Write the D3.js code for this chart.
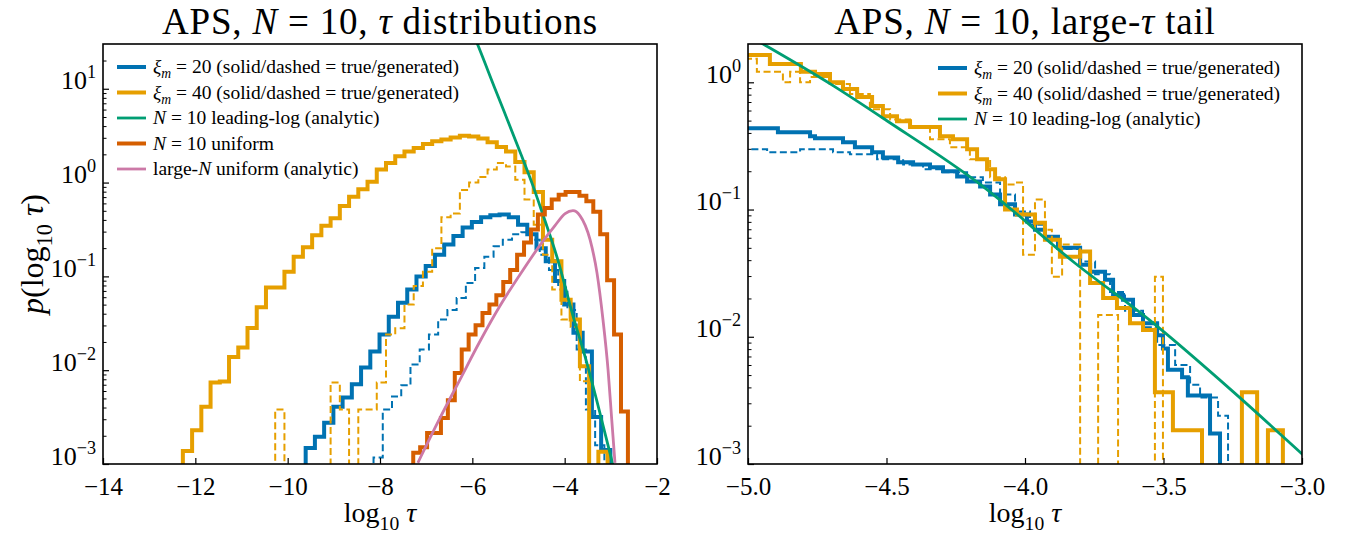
<!DOCTYPE html>
<html>
<head>
<meta charset="utf-8">
<title>APS tau distributions</title>
<script src="https://cdn.jsdelivr.net/npm/d3@7"></script>
<style>
  body { margin: 0; background: #fff; }
  svg text { font-family: "Liberation Serif", "DejaVu Serif", serif; fill: #000; }
</style>
</head>
<body>
<div id="figure"></div>
<script>
/*
Two log-y step-histogram panels for APS with N = 10.
Left: full tau distributions, right: zoom on the large-tau tail.
All values (x = log10 tau, y = p(log10 tau)).
*/

// ---- left panel, 0.2-wide bins ----
const binWidth = 0.2;

const xi40Start = -12.27;
const xi40True = [0.00138, 0.00229, 0.00407, 0.00741, 0.00759, 0.0138, 0.0174, 0.0282, 0.0468, 0.0759,
  0.0759, 0.112, 0.162, 0.204, 0.275, 0.347, 0.417, 0.562, 0.708, 0.851,
  1.02, 1.38, 1.62, 1.91, 2.14, 2.34, 2.57, 2.75, 2.88, 3.02,
  3.16, 3.09, 2.95, 2.69, 2.40, 2.14, 1.66, 1.29, 0.794, 0.245,
  0.145, 0.0562, 0.0347, 0.011, 0, 0.00135];
const xi40Gen = [0, 0, 0, 0, 0, 0, 0, 0, 0, 0,
  0.0038, 0, 0, 0, 0, 0, 0.0074, 0.0038, 0, 0.0038,
  0.0038, 0.0074, 0.024, 0.028, 0.05, 0.079, 0.112, 0.2, 0.427, 0.468,
  0.832, 1.0, 1.15, 1.38, 1.62, 1.48, 1.07, 0.66, 0.355, 0.17,
  0.0724, 0.0347, 0.0288, 0.0076];

const xi20TrueStart = -9.61;
const xi20True = [0.00148, 0.00195, 0.00275, 0.00407, 0.00513, 0.00708, 0.0107, 0.0158, 0.024, 0.0372,
  0.0525, 0.0724, 0.1, 0.129, 0.17, 0.219, 0.269, 0.331, 0.38, 0.427,
  0.447, 0.457, 0.427, 0.355, 0.282, 0.2, 0.145, 0.0891, 0.0501, 0.0251,
  0.0158, 0.00316, 0.00141];

const xi20GenStart = -8.14;
const xi20Gen = [0.00117, 0.0038, 0.00525, 0.00692, 0.0115, 0.0166, 0.024, 0.0347, 0.0437, 0.0589,
  0.0851, 0.123, 0.162, 0.209, 0.245, 0.282, 0.295, 0.245, 0.17, 0.117,
  0.0759, 0.0437, 0.0166, 0.0038, 0.00158];

// N = 10 uniform, 0.15-wide bins
const uniformStart = -7.28;
const uniformWidth = 0.15;
const uniformN10 = [0.00132, 0.00151, 0.00214, 0.00214, 0.00309, 0.00479, 0.00933, 0.0166, 0.024, 0.0302,
  0.0407, 0.0501, 0.0631, 0.0871, 0.117, 0.17, 0.229, 0.316, 0.457, 0.537,
  0.661, 0.741, 0.794, 0.794, 0.724, 0.631, 0.49, 0.282, 0.0912, 0.024,
  0.00363];

// analytic curves, sampled off the figure as [log10 tau, p]
const largeNUniform = [[-7.18, 0.00103], [-6.70, 0.0031], [-6.27, 0.0079], [-5.84, 0.0201],
  [-5.40, 0.0486], [-4.97, 0.104], [-4.54, 0.213], [-4.21, 0.348], [-3.99, 0.467],
  [-3.82, 0.502], [-3.67, 0.445], [-3.45, 0.246], [-3.30, 0.109], [-3.17, 0.0345],
  [-3.06, 0.0101], [-2.98, 0.00296], [-2.91, 0.00103]];
const leadingLog = [[-6.0, 40.7], [-5.9, 30.9], [-5.5, 9.77], [-5.0, 2.34], [-4.69, 0.933],
  [-4.5, 0.501], [-4.15, 0.151], [-3.82, 0.038], [-3.55, 0.0135], [-3.25, 0.00372],
  [-3.0, 0.0012], [-2.9, 0.00076]];

// ---- right panel (tail), bins given by their edges ----
const tailXi40TrueEdges = [-5.03, -4.921, -4.809, -4.758, -4.704, -4.657, -4.606, -4.552, -4.513, -4.462,
  -4.415, -4.307, -4.26, -4.209, -4.173, -4.137, -4.108, -4.072, -4.029, -3.964,
  -3.928, -3.874, -3.801, -3.765, -3.718, -3.668, -3.621, -3.574, -3.531, -3.466,
  -3.361, -3.217, -3.162, -3.123, -3.069, -3.0];
const tailXi40True = [1.64, 1.39, 1.21, 1.16, 1.00, 0.885, 0.765, 0.65, 0.54, 0.495,
  0.445, 0.377, 0.357, 0.298, 0.248, 0.207, 0.173, 0.10, 0.0912, 0.0789,
  0.058, 0.0426, 0.0467, 0.0265, 0.0202, 0.0168, 0.0128, 0.0113, 0.00366, 0.00184,
  0, 0.00366, 0, 0.00184, 0];

const tailXi40GenEdges = [-5.03, -4.968, -4.874, -4.848, -4.812, -4.776, -4.704, -4.632, -4.56, -4.487,
  -4.415, -4.343, -4.271, -4.199, -4.126, -4.072, -4.036, -4.007, -3.964, -3.928,
  -3.903, -3.866, -3.801, -3.736, -3.664, -3.531, -3.502];
const tailXi40Gen = [1.53, 1.21, 1.00, 1.21, 1.00, 1.10, 0.97, 0.81, 0.615, 0.51,
  0.445, 0.357, 0.308, 0.248, 0.179, 0.157, 0.163, 0.0442, 0.12, 0.0695,
  0.0296, 0.053, 0, 0.0148, 0, 0.0296];

const tailXi20TrueEdges = [-5.03, -4.892, -4.776, -4.758, -4.657, -4.614, -4.552, -4.513, -4.458, -4.404,
  -4.343, -4.296, -4.245, -4.209, -4.162, -4.126, -4.09, -4.036, -3.993, -3.964,
  -3.928, -3.881, -3.801, -3.765, -3.711, -3.682, -3.646, -3.61, -3.574, -3.523,
  -3.502, -3.484, -3.433, -3.412, -3.332, -3.296];
const tailXi20True = [0.435, 0.405, 0.377, 0.363, 0.338, 0.308, 0.282, 0.257, 0.235, 0.226,
  0.215, 0.20, 0.182, 0.166, 0.152, 0.131, 0.11, 0.0912, 0.0804, 0.0695,
  0.0612, 0.050, 0.0368, 0.0324, 0.028, 0.0213, 0.0195, 0.0148, 0.0128, 0.0103,
  0.0081, 0.0055, 0.0048, 0.00346, 0.00174];

const tailXi20GenEdges = [-5.03, -4.931, -4.812, -4.693, -4.632, -4.534, -4.44, -4.368, -4.296, -4.209,
  -4.152, -4.09, -4.036, -3.982, -3.928, -3.874, -3.801, -3.747, -3.693, -3.639,
  -3.574, -3.523, -3.458, -3.404, -3.368, -3.303, -3.267];
const tailXi20Gen = [0.298, 0.282, 0.298, 0.282, 0.272, 0.248, 0.226, 0.207, 0.196, 0.179,
  0.163, 0.131, 0.0964, 0.076, 0.058, 0.049, 0.039, 0.031, 0.0225, 0.016,
  0.0119, 0.0086, 0.006, 0.0042, 0.00333, 0.0024];

// tick values
const leftXTicks = [-14, -12, -10, -8, -6, -4, -2];
const rightXTicks = [-5.0, -4.5, -4.0, -3.5, -3.0];
const leftDecades = [1e-3, 1e-2, 1e-1, 1, 10];
const rightDecades = [1e-3, 1e-2, 1e-1, 1];

const colors = {
    blue: "#0072B2",
    orange: "#E69F00",
    green: "#009E73",
    vermillion: "#D55E00",
    pink: "#CC79A7"
};

const svg = d3.select("#figure")
    .append("svg")
    .attr("width", 1351)
    .attr("height", 537);

// helpers
function uniformEdges(start, width, n) {
    return d3.range(n + 1).map(i => start + i * width);
}

// step outline like matplotlib histtype="step": starts and ends on the floor
function stepPoints(edges, values) {
    let pts = [[edges[0], 0]];
    values.forEach((v, i) => {
        pts.push([edges[i], v]);
        pts.push([edges[i + 1], v]);
    });
    pts.push([edges[edges.length - 1], 0]);
    return pts;
}

// text with italic / sub / superscript pieces
function richText(sel, parts, size) {
    let shift = 0;
    parts.forEach(p => {
        if (typeof p === "string") p = {t: p};
        let want = p.sub ? size * 0.28 : (p.sup ? -size * 0.42 : 0);
        sel.append("tspan")
            .attr("dy", want - shift)
            .attr("font-size", (p.sub || p.sup) ? size * 0.7 : size)
            .attr("font-style", p.it ? "italic" : null)
            .text(p.t);
        shift = want;
    });
}

function minorTicks(domain) {
    let out = [];
    for (let e = -4; e <= 2; e++) {
        for (let k = 2; k <= 9; k++) {
            let v = k * Math.pow(10, e);
            if (v > domain[0] && v < domain[1]) out.push(v);
        }
    }
    return out;
}

function drawPanel(p) {
    let g = svg.append("g")
        .attr("transform", `translate(${p.left}, ${p.top})`);

    let x = d3.scaleLinear().domain(p.xDomain).range([0, p.width]);
    let y = d3.scaleLog().domain(p.yDomain).range([p.height, 0]);

    g.append("clipPath")
        .attr("id", p.id + "-clip")
        .append("rect")
        .attr("width", p.width)
        .attr("height", p.height);

    let plot = g.append("g").attr("clip-path", `url(#${p.id}-clip)`);

    let yOf = d => d[1] > 0 ? y(d[1]) : p.height + 20;
    let stepLine = d3.line().x(d => x(d[0])).y(yOf);
    let smoothLine = d3.line().x(d => x(d[0])).y(yOf).curve(d3.curveMonotoneX);

    p.series.forEach(s => {
        plot.append("path")
            .datum(s.points)
            .attr("fill", "none")
            .attr("stroke", s.color)
            .attr("stroke-width", s.width)
            .attr("stroke-dasharray", s.dash || null)
            .attr("stroke-linejoin", s.smooth ? "round" : "miter")
            .attr("d", s.smooth ? smoothLine : stepLine);
    });

    // x axis, ticks pointing in
    let xAxis = d3.axisBottom(x)
        .tickValues(p.xTicks)
        .tickSizeInner(-6)
        .tickSizeOuter(0)
        .tickPadding(13)
        .tickFormat(p.xFormat);
    let xg = g.append("g")
        .attr("transform", `translate(0, ${p.height})`)
        .call(xAxis);
    xg.select(".domain").remove();
    xg.selectAll("text").attr("font-size", 25).attr("font-family", null);
    xg.selectAll("line").attr("stroke-width", 1.2);

    // y axis, decades labelled as 10^k
    let yAxis = d3.axisLeft(y)
        .tickValues(p.decades)
        .tickSizeInner(-6)
        .tickSizeOuter(0)
        .tickPadding(7)
        .tickFormat(() => "");
    let yg = g.append("g").call(yAxis);
    yg.select(".domain").remove();
    yg.selectAll("line").attr("stroke-width", 1.2);
    yg.selectAll("text")
        .attr("font-family", null)
        .attr("dy", "0.42em")
        .each(function (d) {
            let exp = Math.round(Math.log10(d));
            richText(d3.select(this), ["10", {t: d3.format("d")(exp), sup: true}], 26);
        });

    let minorAxis = d3.axisLeft(y)
        .tickValues(minorTicks(p.yDomain))
        .tickSizeInner(-3.5)
        .tickSizeOuter(0)
        .tickFormat(() => "");
    let mg = g.append("g").call(minorAxis);
    mg.select(".domain").remove();
    mg.selectAll("line").attr("stroke-width", 1);

    // frame
    g.append("rect")
        .attr("width", p.width)
        .attr("height", p.height)
        .attr("fill", "none")
        .attr("stroke", "#000")
        .attr("stroke-width", 1.6);

    // title
    let title = g.append("text")
        .attr("x", p.width / 2)
        .attr("y", -10)
        .attr("text-anchor", "middle")
        .attr("letter-spacing", 0.8);
    richText(title, p.title, 37);

    // x label
    let xl = g.append("text")
        .attr("x", p.width / 2)
        .attr("y", p.height + 58)
        .attr("text-anchor", "middle");
    richText(xl, ["log", {t: "10", sub: true}, " ", {t: "τ", it: true}], 28);

    // legend
    let leg = g.append("g")
        .attr("transform", `translate(${p.legendX}, ${p.legendY})`);
    p.legend.forEach((item, i) => {
        let row = leg.append("g").attr("transform", `translate(0, ${i * 25.5})`);
        row.append("line")
            .attr("x1", 0).attr("x2", 29)
            .attr("stroke", item.color)
            .attr("stroke-width", item.width);
        let t = row.append("text").attr("x", 36).attr("y", 6);
        richText(t, item.label, 19.5);
    });

    return g;
}

const xiLabel = m => [{t: "ξ", it: true}, {t: "m", it: true, sub: true}, ` = ${m} (solid/dashed = true/generated)`];
const leadingLabel = [{t: "N", it: true}, " = 10 leading-log (analytic)"];

drawPanel({
    id: "left",
    left: 103, top: 44, width: 554, height: 420,
    xDomain: [-14, -2], yDomain: [1e-3, 30],
    xTicks: leftXTicks, xFormat: d3.format("d"), decades: leftDecades,
    title: ["APS, ", {t: "N", it: true}, " = 10, ", {t: "τ", it: true}, " distributions"],
    legendX: 14, legendY: 23,
    series: [
        {points: stepPoints(uniformEdges(xi20TrueStart, binWidth, xi20True.length), xi20True), color: colors.blue, width: 4},
        {points: stepPoints(uniformEdges(xi20GenStart, binWidth, xi20Gen.length), xi20Gen), color: colors.blue, width: 2, dash: "7,3.5"},
        {points: stepPoints(uniformEdges(xi40Start, binWidth, xi40True.length), xi40True), color: colors.orange, width: 4},
        {points: stepPoints(uniformEdges(xi40Start, binWidth, xi40Gen.length), xi40Gen), color: colors.orange, width: 2, dash: "7,3.5"},
        {points: leadingLog, color: colors.green, width: 2.8, smooth: true},
        {points: stepPoints(uniformEdges(uniformStart, uniformWidth, uniformN10.length), uniformN10), color: colors.vermillion, width: 4},
        {points: largeNUniform, color: colors.pink, width: 2.8, smooth: true}
    ],
    legend: [
        {label: xiLabel(20), color: colors.blue, width: 4},
        {label: xiLabel(40), color: colors.orange, width: 4},
        {label: leadingLabel, color: colors.green, width: 2.8},
        {label: [{t: "N", it: true}, " = 10 uniform"], color: colors.vermillion, width: 4},
        {label: ["large-", {t: "N", it: true}, " uniform (analytic)"], color: colors.pink, width: 2.8}
    ]
});

// y label only on the left panel
let yl = svg.append("text")
    .attr("transform", "translate(43, 254) rotate(-90)")
    .attr("text-anchor", "middle");
richText(yl, [{t: "p", it: true}, "(log", {t: "10", sub: true}, " ", {t: "τ", it: true}, ")"], 32);

drawPanel({
    id: "right",
    left: 748, top: 44, width: 554, height: 420,
    xDomain: [-5, -3], yDomain: [1e-3, 2],
    xTicks: rightXTicks, xFormat: d3.format(".1f"), decades: rightDecades,
    title: ["APS, ", {t: "N", it: true}, " = 10, large-", {t: "τ", it: true}, " tail"],
    legendX: 190, legendY: 24,
    series: [
        {points: stepPoints(tailXi20TrueEdges, tailXi20True), color: colors.blue, width: 4},
        {points: stepPoints(tailXi20GenEdges, tailXi20Gen), color: colors.blue, width: 2, dash: "7,3.5"},
        {points: stepPoints(tailXi40TrueEdges, tailXi40True), color: colors.orange, width: 4},
        {points: stepPoints(tailXi40GenEdges, tailXi40Gen), color: colors.orange, width: 2, dash: "7,3.5"},
        {points: leadingLog, color: colors.green, width: 2.8, smooth: true}
    ],
    legend: [
        {label: xiLabel(20), color: colors.blue, width: 4},
        {label: xiLabel(40), color: colors.orange, width: 4},
        {label: leadingLabel, color: colors.green, width: 2.8}
    ]
});
</script>
</body>
</html>
